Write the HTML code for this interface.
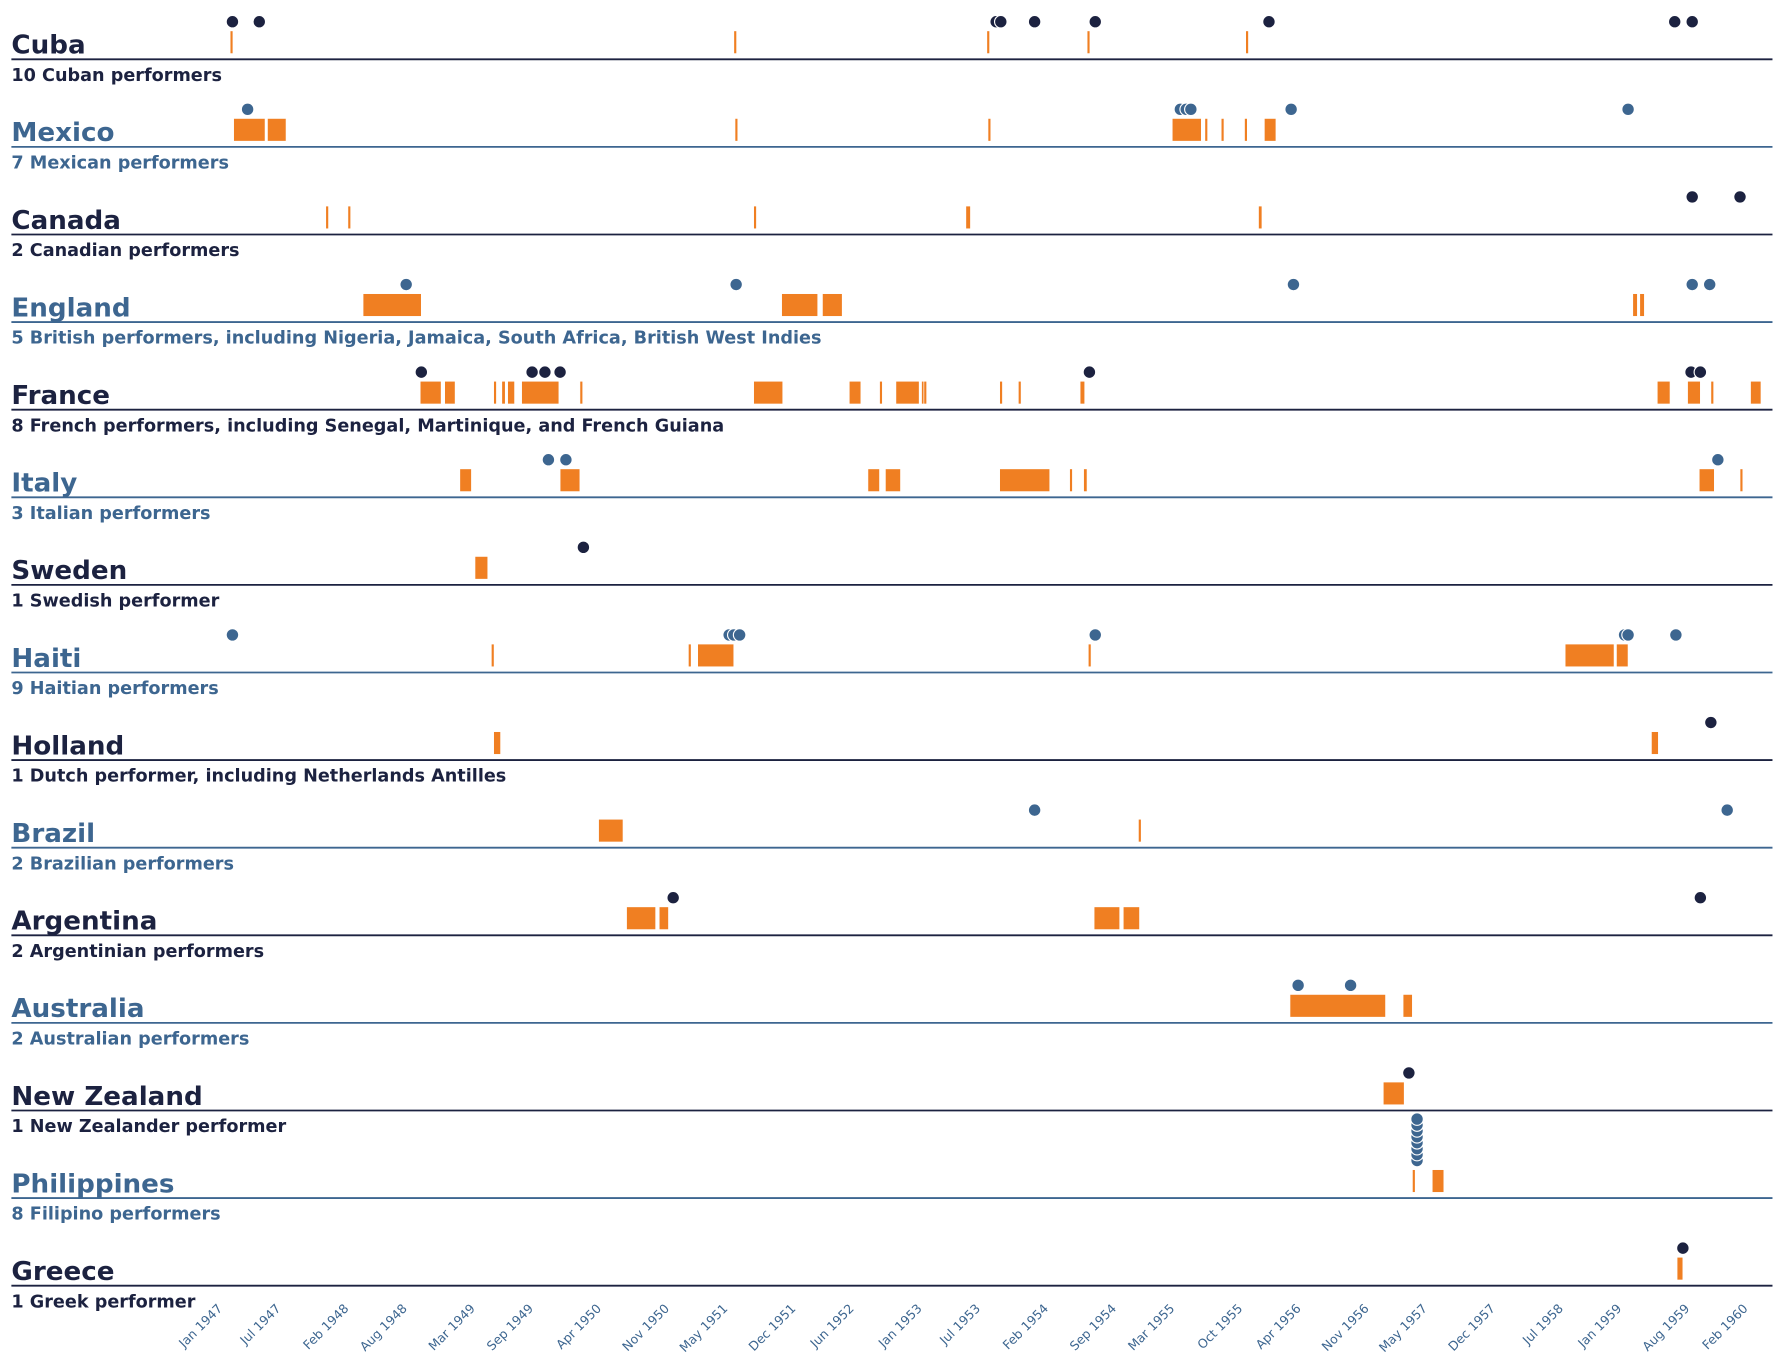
<!DOCTYPE html>
<html><head><meta charset="utf-8"><style>
html,body{margin:0;padding:0;background:#fff;}
svg{display:block;}
</style></head><body>
<svg id="chart" width="1785" height="1364" viewBox="0 0 1568 1198" xmlns="http://www.w3.org/2000/svg" font-family="'DejaVu Sans','Liberation Sans',sans-serif"></svg>
<script>
const countries = ["Cuba","Mexico","Canada","England","France","Italy","Sweden","Haiti","Holland","Brazil","Argentina","Australia","New Zealand","Philippines","Greece"];
const subtitles = ["10 Cuban performers","7 Mexican performers","2 Canadian performers","5 British performers, including Nigeria, Jamaica, South Africa, British West Indies","8 French performers, including Senegal, Martinique, and French Guiana","3 Italian performers","1 Swedish performer","9 Haitian performers","1 Dutch performer, including Netherlands Antilles","2 Brazilian performers","2 Argentinian performers","2 Australian performers","1 New Zealander performer","8 Filipino performers","1 Greek performer"];
// tours: [startYear, endYear] (decimal years)
const tours = [
 [[1947.06,1947.08],[1951.38,1951.40],[1953.55,1953.57],[1954.41,1954.43],[1955.77,1955.79]],
 [[1947.09,1947.36],[1947.38,1947.54],[1951.39,1951.41],[1953.56,1953.58],[1955.14,1955.39],[1955.42,1955.44],[1955.56,1955.58],[1955.76,1955.78],[1955.93,1956.03]],
 [[1947.88,1947.90],[1948.07,1948.09],[1951.55,1951.57],[1953.37,1953.41],[1955.88,1955.91]],
 [[1948.20,1948.70],[1951.79,1952.10],[1952.14,1952.31],[1959.09,1959.13],[1959.15,1959.19]],
 [[1948.69,1948.87],[1948.90,1948.99],[1949.32,1949.34],[1949.39,1949.42],[1949.44,1949.50],[1949.56,1949.88],[1950.06,1950.08],[1951.55,1951.80],[1952.37,1952.47],[1952.63,1952.65],[1952.77,1952.97],[1952.99,1953.00],[1953.01,1953.02],[1953.66,1953.68],[1953.82,1953.84],[1954.35,1954.39],[1959.30,1959.41],[1959.56,1959.67],[1959.76,1959.78],[1960.10,1960.19]],
 [[1949.03,1949.13],[1949.89,1950.06],[1952.53,1952.63],[1952.68,1952.81],[1953.66,1954.09],[1954.26,1954.28],[1954.38,1954.41],[1959.66,1959.79],[1960.01,1960.03]],
 [[1949.16,1949.27]],
 [[1949.30,1949.32],[1950.99,1951.01],[1951.07,1951.38],[1954.42,1954.44],[1958.51,1958.93],[1958.95,1959.05]],
 [[1949.32,1949.38],[1959.25,1959.31]],
 [[1950.22,1950.43],[1954.85,1954.87]],
 [[1950.46,1950.71],[1950.74,1950.82],[1954.47,1954.69],[1954.72,1954.86]],
 [[1956.15,1956.97],[1957.12,1957.20]],
 [[1956.95,1957.13]],
 [[1957.20,1957.22],[1957.37,1957.47]],
 [[1959.47,1959.52]]
];
// arrivals: performer dots (decimal years)
const arrivals = [
 [1947.08,1947.31,1953.63,1953.67,1953.96,1954.48,1955.97,1959.45,1959.60],
 [1947.21,1955.21,1955.26,1955.30,1956.16,1959.05],
 [1959.60,1960.01],
 [1948.57,1951.40,1956.18,1959.60,1959.75],
 [1948.70,1949.65,1949.76,1949.89,1954.43,1959.59,1959.67],
 [1949.79,1949.94,1959.82],
 [1950.09],
 [1947.08,1951.34,1951.38,1951.43,1954.48,1959.02,1959.05,1959.46],
 [1959.76],
 [1953.96,1959.90],
 [1950.86,1959.67],
 [1956.22,1956.67],
 [1957.17],
 [1957.24,1957.24,1957.24,1957.24,1957.24,1957.24,1957.24,1957.24],
 [1959.52]
];
const tickLabels = ["Jan 1947","Jul 1947","Feb 1948","Aug 1948","Mar 1949","Sep 1949","Apr 1950","Nov 1950","May 1951","Dec 1951","Jun 1952","Jan 1953","Jul 1953","Feb 1954","Sep 1954","Mar 1955","Oct 1955","Apr 1956","Nov 1956","May 1957","Dec 1957","Jul 1958","Jan 1959","Aug 1959","Feb 1960"];

const NS="http://www.w3.org/2000/svg";
const svg=document.getElementById('chart');
const months={Jan:0,Feb:1,Mar:2,Apr:3,May:4,Jun:5,Jul:6,Aug:7,Sep:8,Oct:9,Nov:10,Dec:11};
function x(yr){return 196+(yr-1947)*102.42;}
function rowY(i){return 52+i*76.95;}
function mk(tag,attrs){const e=document.createElementNS(NS,tag);for(const k in attrs)e.setAttribute(k,attrs[k]);svg.appendChild(e);return e;}
const DARK="#1c2240",BLUE="#3d6690",ORANGE="#f07f22";
countries.forEach((c,i)=>{
  const b=rowY(i), col=i%2===0?DARK:BLUE;
  const ln=mk('line',{x1:10,x2:1557,y1:b,y2:b,stroke:col,'stroke-width':1.6});
  
  
  const t=mk('text',{x:10,y:b-5,fill:col,'font-size':23,'font-weight':'bold'});
  t.textContent=c;
  
  
  const s=mk('text',{x:10,y:b+19,fill:col,'font-size':15.5,'font-weight':'bold'});
  s.textContent=subtitles[i];
  
  
  tours[i].forEach(tr=>{
    const x0=x(tr[0]),w=Math.max(2.5,x(tr[1])-x0);
    const r=mk('rect',{x:x0,y:b-25,width:w,height:20,fill:ORANGE,stroke:'#fff','stroke-width':0.6});
    
    
  });
  const seen={};
  arrivals[i].forEach(a=>{
    const k=a.toFixed(2);seen[k]=(seen[k]||0)+1;
    const cy=b-33-(seen[k]-1)*5.2;
    const d=mk('circle',{cx:x(a),cy:cy,r:5.5,fill:col,stroke:'#fff','stroke-width':1});
    
    
  });
});
tickLabels.forEach(l=>{
  const [m,y]=l.split(' ');
  const xx=x(+y+months[m]/12);
  const t=mk('text',{x:xx,y:1150,fill:'#3d6690','font-size':11,'text-anchor':'end',transform:`rotate(-45 ${xx} 1150)`});
  t.textContent=l;
  
  
});
</script>
</body></html>
